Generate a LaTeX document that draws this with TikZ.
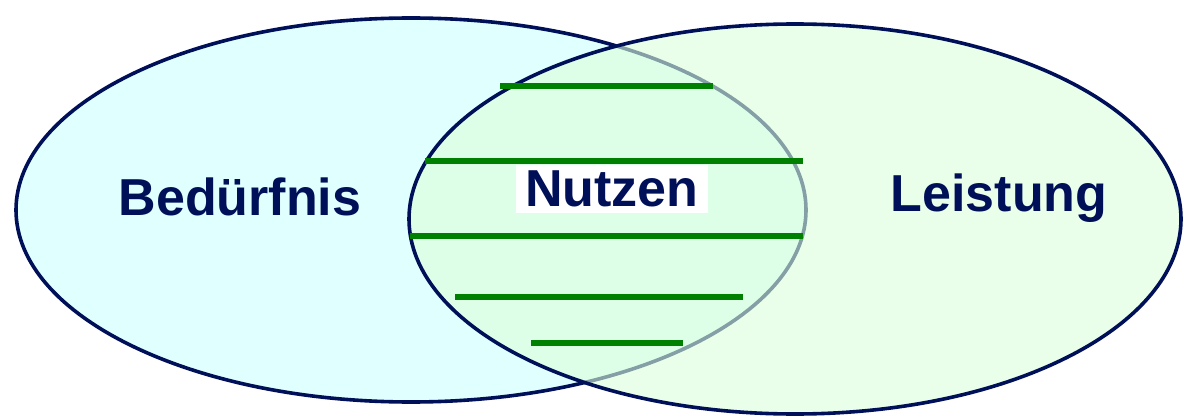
\documentclass[tikz,border=0pt]{standalone}
\usepackage{fontspec}
\setmainfont{Liberation Sans}
\usetikzlibrary{shapes.geometric}
\definecolor{navycol}{RGB}{0,16,88}
\definecolor{needcol}{RGB}{224,255,255}
\definecolor{perfcol}{RGB}{220,255,218}
\definecolor{barcol}{RGB}{0,128,0}

\begin{document}
\begin{tikzpicture}[
    x=1pt, y=-1pt,
    set/.style={draw=navycol, ellipse, line width=3.6pt, inner sep=0pt},
    lbl/.style={font=\fontsize{52}{56}\selectfont\bfseries, text=navycol, inner sep=0pt},
    bar/.style={draw=barcol, line width=6pt},
]
\useasboundingbox (0,0) rectangle (1184,417);
\node[set, fill=needcol, minimum width=790pt, minimum height=384pt] (need) at (411,210) {};
\node[set, fill=perfcol, fill opacity=0.6, minimum width=772pt, minimum height=390pt] (perf) at (795,219) {};

% hatching of the overlap
\draw[bar] (500,86) -- (713,86);
\draw[bar] (425,161) -- (803,161);
\draw[bar] (410,236) -- (803,236);
\draw[bar] (455,297) -- (743,297);
\draw[bar] (531,343) -- (683,343);

\node[lbl] (needlbl) at (240,197) {Bedürfnis};
\node[lbl] (perflbl) at (999,198) {Leistung};
\node[lbl, fill=white, minimum width=192pt, minimum height=48pt] (benefit) at (612,189) {Nutzen};
\end{tikzpicture}
\end{document}
